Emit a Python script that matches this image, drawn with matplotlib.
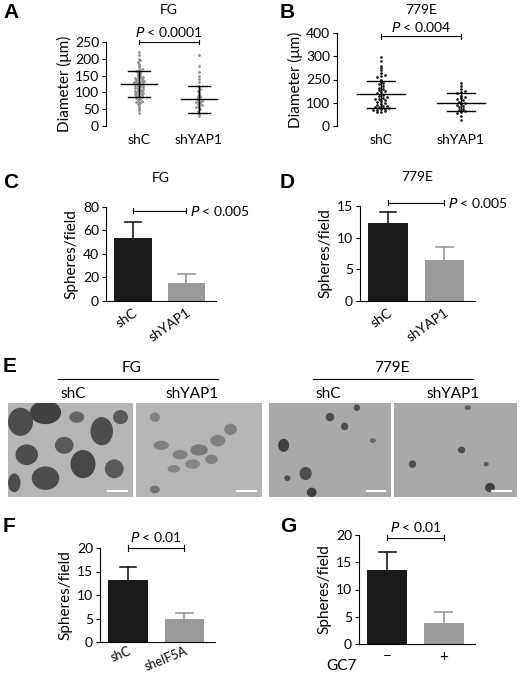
import matplotlib
matplotlib.use("Agg")
import matplotlib.pyplot as plt
from matplotlib.patches import Ellipse
import numpy as np

plt.rcParams["font.family"] = ["Lato", "DejaVu Sans"]
plt.rcParams["font.size"] = 9
plt.rcParams["axes.linewidth"] = 0.8

W, H = 520, 674

# ---------------- data ----------------
groups_sh = ["shC", "shYAP1"]

# A: FG diameters (um)
a_shc = [40, 48, 55, 60, 64, 68, 70, 72, 75, 78, 80, 82, 85, 87, 88, 90, 92, 94, 95, 97,
         98, 100, 102, 104, 105, 107, 108, 110, 112, 113, 115, 116, 118, 120, 121, 122, 124,
         125, 126, 128, 130, 131, 132, 134, 135, 137, 138, 140, 142, 144, 145, 147, 150, 152,
         155, 158, 160, 162, 165, 168, 170, 175, 180, 185, 190, 195, 200, 210, 220]
a_shyap = [30, 35, 40, 45, 50, 55, 58, 60, 62, 65, 68, 70, 72, 75, 78, 80, 82, 85, 88, 90,
           95, 100, 105, 110, 115, 120, 130, 140, 150, 160, 180, 210]
a_mean = [125, 80]
a_sd = [40, 40]

# B: 779E diameters (um)
b_shc = [60, 62, 65, 68, 70, 72, 75, 78, 80, 82, 85, 88, 90, 95, 100, 105, 108, 110, 115,
         118, 120, 125, 130, 135, 140, 145, 150, 155, 160, 165, 170, 180, 185, 190, 200, 210,
         215, 220, 230, 240, 250, 260, 280, 295]
b_shyap = [25, 45, 55, 60, 65, 70, 75, 80, 85, 90, 95, 100, 105, 110, 115, 120, 125, 130,
           140, 145, 150, 160, 170, 185]
b_mean = [137, 101]
b_lo = [79, 63]
b_hi = [195, 141]
b_ticks = [0, 100, 200, 300, 400]
b_ticklabels = ["0", "100", "250", "300", "400"]

# C-G: spheres per field
c_mean, c_err = [54, 15], [13, 8]
d_mean, d_err = [12.3, 6.4], [1.7, 2.2]
f_groups = ["shC", "sheIF5A"]
f_mean, f_err = [13.1, 4.9], [2.9, 1.3]
g_groups = ["\u2212", "+"]
g_mean, g_err = [13.6, 3.8], [3.2, 2.0]

# E: sphere blobs per micrograph (x, y, width, height, grey level) in image fraction
blobs = [
    [(0.1, 0.8, 0.2, 0.3, 0.3), (0.3, 0.9, 0.25, 0.25, 0.25), (0.15, 0.45, 0.18, 0.22, 0.3),
     (0.45, 0.55, 0.15, 0.18, 0.35), (0.6, 0.35, 0.2, 0.3, 0.28), (0.75, 0.7, 0.18, 0.3, 0.3),
     (0.3, 0.2, 0.22, 0.25, 0.3), (0.85, 0.3, 0.15, 0.2, 0.35), (0.55, 0.85, 0.12, 0.12, 0.4),
     (0.9, 0.85, 0.12, 0.15, 0.35), (0.05, 0.15, 0.1, 0.2, 0.3)],
    [(0.2, 0.55, 0.12, 0.1, 0.5), (0.35, 0.45, 0.12, 0.1, 0.5), (0.5, 0.5, 0.14, 0.12, 0.48),
     (0.65, 0.6, 0.12, 0.12, 0.5), (0.75, 0.72, 0.1, 0.12, 0.5), (0.45, 0.35, 0.12, 0.1, 0.52),
     (0.6, 0.4, 0.1, 0.1, 0.5), (0.15, 0.85, 0.08, 0.1, 0.5), (0.3, 0.3, 0.1, 0.08, 0.52),
     (0.15, 0.08, 0.08, 0.08, 0.45)],
    [(0.12, 0.55, 0.09, 0.14, 0.25), (0.3, 0.25, 0.1, 0.14, 0.3), (0.35, 0.05, 0.08, 0.1, 0.25),
     (0.5, 0.85, 0.07, 0.09, 0.3), (0.72, 0.95, 0.05, 0.07, 0.3), (0.62, 0.75, 0.06, 0.08, 0.3),
     (0.15, 0.2, 0.05, 0.06, 0.3), (0.85, 0.6, 0.05, 0.05, 0.4)],
    [(0.15, 0.35, 0.06, 0.08, 0.3), (0.55, 0.5, 0.06, 0.07, 0.3), (0.75, 0.35, 0.04, 0.05, 0.35),
     (0.78, 0.1, 0.08, 0.1, 0.25), (0.6, 0.95, 0.05, 0.05, 0.35)],
]

BLACK = "#1a1a1a"
GREY = "#9a9a9a"

fig = plt.figure(figsize=(W / 100, H / 100), dpi=100)


def ax_px(left, top, right, bottom):
    return fig.add_axes([left / W, 1 - bottom / H, (right - left) / W, (bottom - top) / H])


def style(ax):
    for s in ["top", "right"]:
        ax.spines[s].set_visible(False)
    ax.tick_params(length=3, width=0.8, pad=2, labelsize=10)


def letter(x, y, s):
    fig.text(x / W, 1 - y / H, s, fontsize=15, fontweight="bold",
             family=["Liberation Sans"], va="center", ha="left")


def bracket(ax, x0, x1, y, text, dy, tx=None, ha="center"):
    ax.plot([x0, x1], [y, y], color="k", lw=0.8, clip_on=False)
    for xx in (x0, x1):
        ax.plot([xx, xx], [y - dy, y + dy], color="k", lw=0.8, clip_on=False)
    if tx is None:
        ax.text((x0 + x1) / 2, y + dy * 1.4, "$P$ < " + text, ha="center", va="bottom",
                fontsize=10, clip_on=False)
    else:
        ax.text(tx, y, "$P$ < " + text, ha=ha, va="center", fontsize=10, clip_on=False)


def swarm(ax, xc, vals, step, width, color, size):
    vals = np.array(vals, dtype=float)
    bins = np.round(vals / step)
    for b in np.unique(bins):
        sel = vals[bins == b]
        n = len(sel)
        offs = (np.arange(n) - (n - 1) / 2) * width
        ax.scatter(xc + offs, sel, s=size, color=color, lw=0, zorder=2)


def dot_panel(ax, data, lo, mid, hi, color, step, width):
    for i, vals in enumerate(data):
        swarm(ax, i, vals, step, width, color, 4)
        ax.plot([i - 0.3, i + 0.3], [mid[i]] * 2, color="k", lw=1, zorder=3)
        ax.plot([i, i], [lo[i], hi[i]], color="k", lw=1, zorder=3)
        for v in (lo[i], hi[i]):
            ax.plot([i - 0.18, i + 0.18], [v, v], color="k", lw=1, zorder=3)
    ax.set_xlim(-0.55, 1.55)
    ax.set_xticks([0, 1])
    ax.set_xticklabels(groups_sh)
    ax.tick_params(axis="x", length=0, pad=6)
    ax.spines["bottom"].set_visible(False)


def bar_panel(ax, means, errs, labels, rot=35):
    ax.bar([0, 1], means, width=0.7, color=[BLACK, GREY], zorder=2)
    for i in range(2):
        ax.plot([i, i], [means[i], means[i] + errs[i]], color=[BLACK, GREY][i], lw=1.2)
        ax.plot([i - 0.15, i + 0.15], [means[i] + errs[i]] * 2, color=[BLACK, GREY][i], lw=1.2)
    ax.set_xlim(-0.5, 1.55)
    ax.set_xticks([0, 1])
    if rot:
        ax.set_xticklabels(labels, rotation=rot, ha="right", rotation_mode="anchor")
    else:
        ax.set_xticklabels(labels)
    ax.tick_params(axis="x", length=0, pad=4)
    ax.set_ylabel("Spheres/field", fontsize=11, labelpad=3)


# ---------------- A ----------------
ax = ax_px(106, 42, 232, 126)
style(ax)
dot_panel(ax, [a_shc, a_shyap],
          [m - s for m, s in zip(a_mean, a_sd)], a_mean,
          [m + s for m, s in zip(a_mean, a_sd)], "#8c8c8c", 6, 0.045)
ax.set_ylim(0, 250)
ax.set_yticks(range(0, 251, 50))
ax.set_ylabel("Diameter (\u03bcm)", fontsize=11, labelpad=2)
ax.set_title("FG", fontsize=10, pad=20)
bracket(ax, 0, 1, 250, "0.0001", 6)
letter(3, 13, "A")

# ---------------- B ----------------
ax = ax_px(337, 33, 505, 126)
style(ax)
dot_panel(ax, [b_shc, b_shyap], b_lo, b_mean, b_hi, "#222222", 12, 0.05)
ax.set_ylim(0, 400)
ax.set_yticks(b_ticks)
ax.set_yticklabels(b_ticklabels)
ax.set_ylabel("Diameter (\u03bcm)", fontsize=11, labelpad=2)
ax.set_title("779E", fontsize=10, pad=14)
bracket(ax, 0, 1, 385, "0.004", 9)
letter(280, 13, "B")

# ---------------- C ----------------
ax = ax_px(106, 207, 216, 301)
style(ax)
bar_panel(ax, c_mean, c_err, groups_sh)
ax.set_ylim(0, 80)
ax.set_yticks(range(0, 81, 20))
ax.set_title("FG", fontsize=10, pad=18)
bracket(ax, 0, 1, 77, "0.005", 2, tx=1.07, ha="left")
letter(3, 182, "C")

# ---------------- D ----------------
ax = ax_px(360, 206, 475, 301)
style(ax)
bar_panel(ax, d_mean, d_err, groups_sh)
ax.set_ylim(0, 15)
ax.set_yticks([0, 5, 10, 15])
ax.set_title("779E", fontsize=10, pad=18)
bracket(ax, 0, 1, 15.5, "0.005", 0.4, tx=1.07, ha="left")
letter(280, 182, "D")

# ---------------- E ----------------
letter(3, 367, "E")
img_x = [(8, 133), (136, 262), (269, 391), (394, 517)]
for k, (x0, x1) in enumerate(img_x):
    ax = ax_px(x0, 403, x1, 497)
    bg = "#b5b5b5" if k < 2 else "#a9a9a9"
    ax.set_facecolor(bg)
    for (bx, by, bw, bh, g) in blobs[k]:
        ax.add_patch(Ellipse((bx, by), bw, bh, color=str(g), lw=0))
    ax.plot([0.8, 0.95], [0.06, 0.06], color="white", lw=1.5)
    ax.set_xlim(0, 1)
    ax.set_ylim(0, 1)
    ax.set_xticks([])
    ax.set_yticks([])
    for s in ax.spines.values():
        s.set_visible(False)
for cx, x0, x1, title in [(132, 58, 218, "FG"), (392, 313, 473, "779E")]:
    fig.text(cx / W, 1 - 368 / H, title, ha="center", va="center", fontsize=11)
    fig.add_artist(plt.Line2D([x0 / W, x1 / W], [1 - 379 / H] * 2, color="k", lw=0.8))
for cx, lab in [(73, "shC"), (192, "shYAP1"), (328, "shC"), (453, "shYAP1")]:
    fig.text(cx / W, 1 - 394 / H, lab, ha="center", va="center", fontsize=11)

# ---------------- F ----------------
ax = ax_px(100, 548, 215, 642)
style(ax)
bar_panel(ax, f_mean, f_err, f_groups, rot=22)
ax.tick_params(axis="x", pad=2, labelsize=9)
ax.set_ylim(0, 20)
ax.set_yticks(range(0, 21, 5))
bracket(ax, 0, 1, 20, "0.01", 0.6)
letter(3, 527, "F")

# ---------------- G ----------------
ax = ax_px(359, 535, 475, 644)
style(ax)
bar_panel(ax, g_mean, g_err, g_groups, rot=0)
ax.set_ylim(0, 20)
ax.set_yticks(range(0, 21, 5))
ax.text(-0.55, -0.2, "GC7", transform=ax.get_xaxis_transform(), ha="right",
        va="center", fontsize=11)
ax.tick_params(axis="x", labelsize=11)
bracket(ax, 0, 1, 19.5, "0.01", 0.5)
letter(280, 527, "G")

fig.savefig("out.png", dpi=100)
